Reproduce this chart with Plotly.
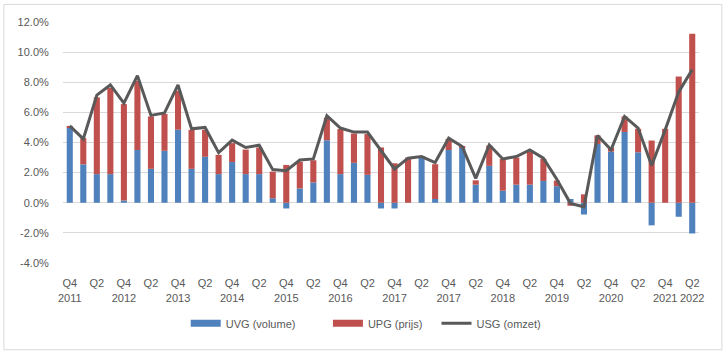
import plotly.graph_objects as go

# Quarter index (47 quarters, labelled every second one as in the source)
quarters = list(range(47))
tick_positions = list(range(0, 47, 2))
tick_labels = ["Q4<br>2011", "Q2", "Q4<br>2012", "Q2", "Q4<br>2013", "Q2", "Q4<br>2014", "Q2",
               "Q4<br>2015", "Q2", "Q4<br>2016", "Q2", "Q4<br>2017", "Q2", "Q4<br>2017", "Q2",
               "Q4<br>2018", "Q2", "Q4<br>2019", "Q2", "Q4<br>2020", "Q2", "Q4<br>2021", "Q2<br>2022"]

uvg = [5.0, 2.55, 1.9, 1.9, 0.15, 3.5, 2.25, 3.45, 4.85, 2.25, 3.05, 1.9, 2.7, 1.9, 1.9, 0.3,
       -0.38, 0.95, 1.35, 4.15, 1.9, 2.65, 1.85, -0.38, -0.38, 0.0, 3.0, 0.25, 3.5, 3.7, 1.2,
       2.45, 0.8, 1.2, 1.2, 1.45, 1.1, 0.25, -0.78, 3.9, 3.4, 4.7, 3.35, -1.5, 0.0, -0.93, -2.04]

upg = [0.1, 1.74, 5.1, 5.72, 6.4, 4.6, 3.48, 2.44, 2.59, 2.59, 1.79, 1.28, 1.26, 1.63, 1.77, 1.77,
       2.51, 1.78, 1.47, 1.49, 2.99, 1.95, 2.71, 3.67, 2.62, 3.0, 0.07, 2.31, 0.74, 0.05, 0.29,
       1.35, 2.11, 1.8, 2.2, 1.46, 0.37, -0.2, 0.56, 0.57, 0.27, 1.03, 1.56, 4.13, 4.91, 8.38, 11.22]

usg = [5.1, 4.24, 7.15, 7.82, 6.62, 8.44, 5.8, 5.96, 7.82, 4.91, 5.0, 3.33, 4.16, 3.67, 3.82, 2.2,
       2.13, 2.84, 2.91, 5.78, 4.96, 4.69, 4.69, 3.5, 2.24, 2.96, 3.07, 2.67, 4.29, 3.73, 1.62,
       3.84, 2.91, 3.07, 3.51, 2.96, 1.55, -0.04, -0.27, 4.47, 3.51, 5.73, 4.96, 2.47, 4.84, 7.36, 8.84]

y_ticks = [-4, -2, 0, 2, 4, 6, 8, 10, 12]

TXT = "#595959"
FONT = "Liberation Sans"
BLUE = "#4F81BD"
RED = "#C0504D"
GREY = "#595959"
NB = "\u00a0"

fig = go.Figure()
fig.add_trace(go.Bar(x=quarters, y=uvg, name="UVG (volume)", marker_color=BLUE,
                     marker_line_width=0, showlegend=False))
fig.add_trace(go.Bar(x=quarters, y=upg, name="UPG (prijs)", marker_color=RED,
                     marker_line_width=0, showlegend=False))
fig.add_trace(go.Scatter(x=quarters, y=usg, name="USG (omzet)", mode="lines",
                         line=dict(color=GREY, width=3), showlegend=False))
# legend keys (wide rectangular swatches like the original)
fig.add_trace(go.Scatter(x=[None], y=[None], name="UVG (volume)" + NB * 9, mode="lines",
                         line=dict(color=BLUE, width=7)))
fig.add_trace(go.Scatter(x=[None], y=[None], name="UPG (prijs)" + NB * 3, mode="lines",
                         line=dict(color=RED, width=7)))
fig.add_trace(go.Scatter(x=[None], y=[None], name="USG (omzet)", mode="lines",
                         line=dict(color=GREY, width=3)))

fig.update_layout(
    width=727, height=355,
    margin=dict(l=63, r=28, t=22, b=92),
    paper_bgcolor="white", plot_bgcolor="white",
    barmode="relative", bargap=0.55,
    font=dict(family=FONT, size=11, color=TXT),
    showlegend=True,
    legend=dict(orientation="h", x=0.476, xanchor="center", y=-0.25, yanchor="middle",
                font=dict(family=FONT, size=11, color=TXT), traceorder="normal",
                itemwidth=30, tracegroupgap=0),
    shapes=[dict(type="rect", xref="paper", yref="paper", x0=-0.093, x1=1.036,
                 y0=-0.36, y1=1.073, line=dict(color="#D9D9D9", width=1), layer="below")],
)
fig.update_xaxes(range=[-0.5, 46.5], tickmode="array", tickvals=tick_positions,
                 ticktext=tick_labels, showgrid=False, zeroline=False, showline=False,
                 ticks="outside", ticklen=10, tickcolor="rgba(0,0,0,0)", tickangle=0,
                 tickfont=dict(family=FONT, size=11, color=TXT))
fig.update_yaxes(range=[-4, 12], tickmode="array", tickvals=y_ticks,
                 ticktext=[f"{v:.1f}%" for v in y_ticks],
                 showgrid=True, gridcolor="#D9D9D9", gridwidth=1, zeroline=True,
                 zerolinecolor="#D9D9D9", zerolinewidth=1, showline=False,
                 ticks="outside", ticklen=11, tickcolor="rgba(0,0,0,0)",
                 tickfont=dict(family=FONT, size=11, color=TXT))

fig.write_html("out.html", config={"displayModeBar": False},
               post_script="document.body.style.margin='0';")
